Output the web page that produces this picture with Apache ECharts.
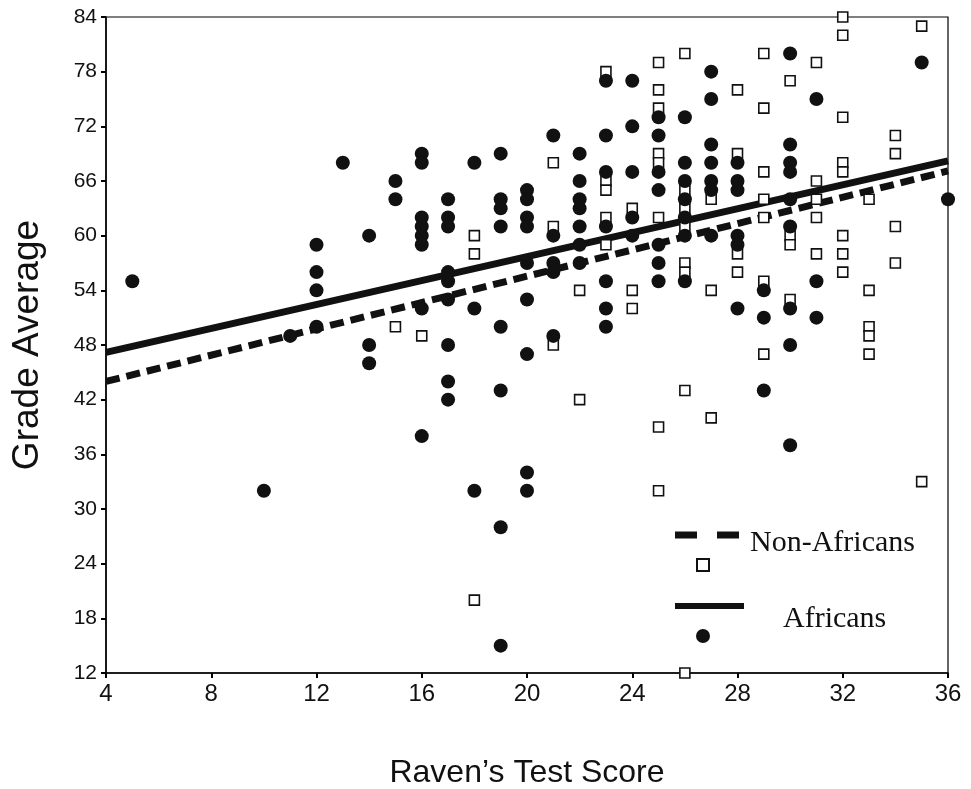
<!DOCTYPE html>
<html>
<head>
<meta charset="utf-8">
<script src="https://cdn.jsdelivr.net/npm/echarts@6/dist/echarts.min.js"></script>
<style>
html,body{margin:0;padding:0;background:#fff;}
#c{width:971px;height:789px;}
</style>
</head>
<body>
<div id="c"></div>
<script>
// Raven's test score (x) and grade average (y)
const africansX = [5,10,11,12,12,12,12,13,14,14,14,15,15,
  16,16,16,16,16,16,16,16,
  17,17,17,17,17,17,17,17,17,
  18,18,18,
  19,19,19,19,19,19,19,19,
  20,20,20,20,20,20,20,20,20,
  21,21,21,21,21,
  22,22,22,22,22,22,22,
  23,23,23,23,23,23,23,
  24,24,24,24,24,
  25,25,25,25,25,25,25,
  26,26,26,26,26,26,26,
  27,27,27,27,27,27,27,
  28,28,28,28,28,28,
  29,29,29,
  30,30,30,30,30,30,30,30,30,
  31,31,31,
  35,36];
const africansY = [55,32,49,59,56,54,50,68,60,48,46,66,64,
  69,68,62,61,60,59,52,38,
  64,62,61,56,55,53,48,44,42,
  68,52,32,
  69,64,63,61,50,43,28,15,
  65,64,62,61,57,53,47,34,32,
  71,60,57,56,49,
  69,66,64,63,61,59,57,
  77,71,67,61,55,52,50,
  77,72,67,62,60,
  73,71,67,65,59,57,55,
  73,68,66,64,62,60,55,
  78,75,70,68,66,65,60,
  68,66,65,60,59,52,
  54,51,43,
  80,70,68,67,64,61,52,48,37,
  75,55,51,
  79,64];

const nonAfricansX = [15,16,18,18,18,21,21,21,22,22,
  23,23,23,23,23,
  24,24,24,
  25,25,25,25,25,25,25,25,
  26,26,26,26,26,26,26,26,
  27,27,27,
  28,28,28,28,
  29,29,29,29,29,29,29,
  30,30,30,30,
  31,31,31,31,31,
  32,32,32,32,32,32,32,32,
  33,33,33,33,33,
  34,34,34,34,
  35,35];
const nonAfricansY = [50,49,60,58,20,68,61,48,54,42,
  78,66,65,62,59,
  63,54,52,
  79,76,74,69,68,62,39,32,
  80,65,63,61,57,56,43,12,
  64,54,40,
  76,69,58,56,
  80,74,67,64,62,55,47,
  77,60,59,53,
  79,66,64,62,58,
  84,82,73,68,67,60,58,56,
  64,54,50,49,47,
  71,69,61,57,
  83,33];

// fitted regression lines (endpoints)
const fitX = [4, 36];
const africansFitY = [47.2, 68.2];
const nonAfricansFitY = [44.0, 67.1];

const xTicks = [4,8,12,16,20,24,28,32,36];
const yTicks = [12,18,24,30,36,42,48,54,60,66,72,78,84];

const zip = (a, b) => a.map((v, i) => [v, b[i]]);

const chart = echarts.init(document.getElementById('c'), null, {renderer: 'canvas'});

const legendFont = '"Liberation Serif","Times New Roman",serif';

chart.setOption({
  backgroundColor: '#fff',
  animation: false,
  grid: {left: 106, right: 23, top: 17, bottom: 116, show: true, borderColor: '#000', borderWidth: 1.2,
         backgroundColor: 'transparent', outerBoundsMode: 'none', containLabel: false},
  xAxis: {
    type: 'value', min: xTicks[0], max: xTicks[xTicks.length-1], interval: 4,
    name: "Raven\u2019s Test Score", nameLocation: 'middle', nameGap: 84,
    nameTextStyle: {fontFamily: '"Liberation Sans Narrow","Liberation Sans",Arial,sans-serif', fontSize: 32, color: '#111'},
    axisLine: {show: true, lineStyle: {color: '#000', width: 1.5}},
    axisTick: {show: true, inside: false, length: 5, lineStyle: {color: '#000', width: 2}},
    axisLabel: {fontFamily: '"Liberation Sans Narrow","Liberation Sans",Arial,sans-serif', fontSize: 24, color: '#111', margin: 9},
    splitLine: {show: false}
  },
  yAxis: {
    type: 'value', min: yTicks[0], max: yTicks[yTicks.length-1], interval: 6,
    name: 'Grade Average', nameLocation: 'middle', nameGap: 60,
    nameTextStyle: {fontFamily: '"Liberation Sans",Arial,sans-serif', fontSize: 37, color: '#111'},
    axisLine: {show: true, lineStyle: {color: '#000', width: 1.5}},
    axisTick: {show: true, inside: false, length: 5, lineStyle: {color: '#000', width: 2}},
    axisLabel: {fontFamily: '"Liberation Sans",Arial,sans-serif', fontSize: 21, color: '#111', margin: 9},
    splitLine: {show: false}
  },
  series: [
    {
      name: 'Africans fit', type: 'line', data: zip(fitX, africansFitY), symbol: 'none',
      lineStyle: {color: '#111', width: 7}, z: 3, silent: true
    },
    {
      name: 'Non-Africans fit', type: 'line', data: zip(fitX, nonAfricansFitY), symbol: 'none',
      lineStyle: {color: '#111', width: 7, type: [14, 7]}, z: 3, silent: true
    },
    {
      name: 'Non-Africans', type: 'scatter', data: zip(nonAfricansX, nonAfricansY),
      symbol: 'rect', symbolSize: 10,
      itemStyle: {color: '#fff', borderColor: '#111', borderWidth: 1.6, opacity: 1}, z: 4
    },
    {
      name: 'Africans', type: 'scatter', data: zip(africansX, africansY),
      symbol: 'circle', symbolSize: 14,
      itemStyle: {color: '#111', opacity: 1}, z: 5
    }
  ],
  graphic: [
    {type: 'line', shape: {x1: 675, y1: 535, x2: 739, y2: 535}, style: {stroke: '#111', lineWidth: 7, lineDash: [22, 20]}, z: 10},
    {type: 'text', x: 750, y: 543, style: {text: 'Non-Africans', font: '30px ' + legendFont, fill: '#111', textVerticalAlign: 'middle'}, z: 10},
    {type: 'rect', shape: {x: 697, y: 559, width: 12, height: 12}, style: {fill: '#fff', stroke: '#111', lineWidth: 2}, z: 10},
    {type: 'line', shape: {x1: 675, y1: 606, x2: 744, y2: 606}, style: {stroke: '#111', lineWidth: 6}, z: 10},
    {type: 'text', x: 783, y: 619, style: {text: 'Africans', font: '30px ' + legendFont, fill: '#111', textVerticalAlign: 'middle'}, z: 10},
    {type: 'circle', shape: {cx: 703, cy: 636, r: 7}, style: {fill: '#111'}, z: 10}
  ]
});
</script>
</body>
</html>
